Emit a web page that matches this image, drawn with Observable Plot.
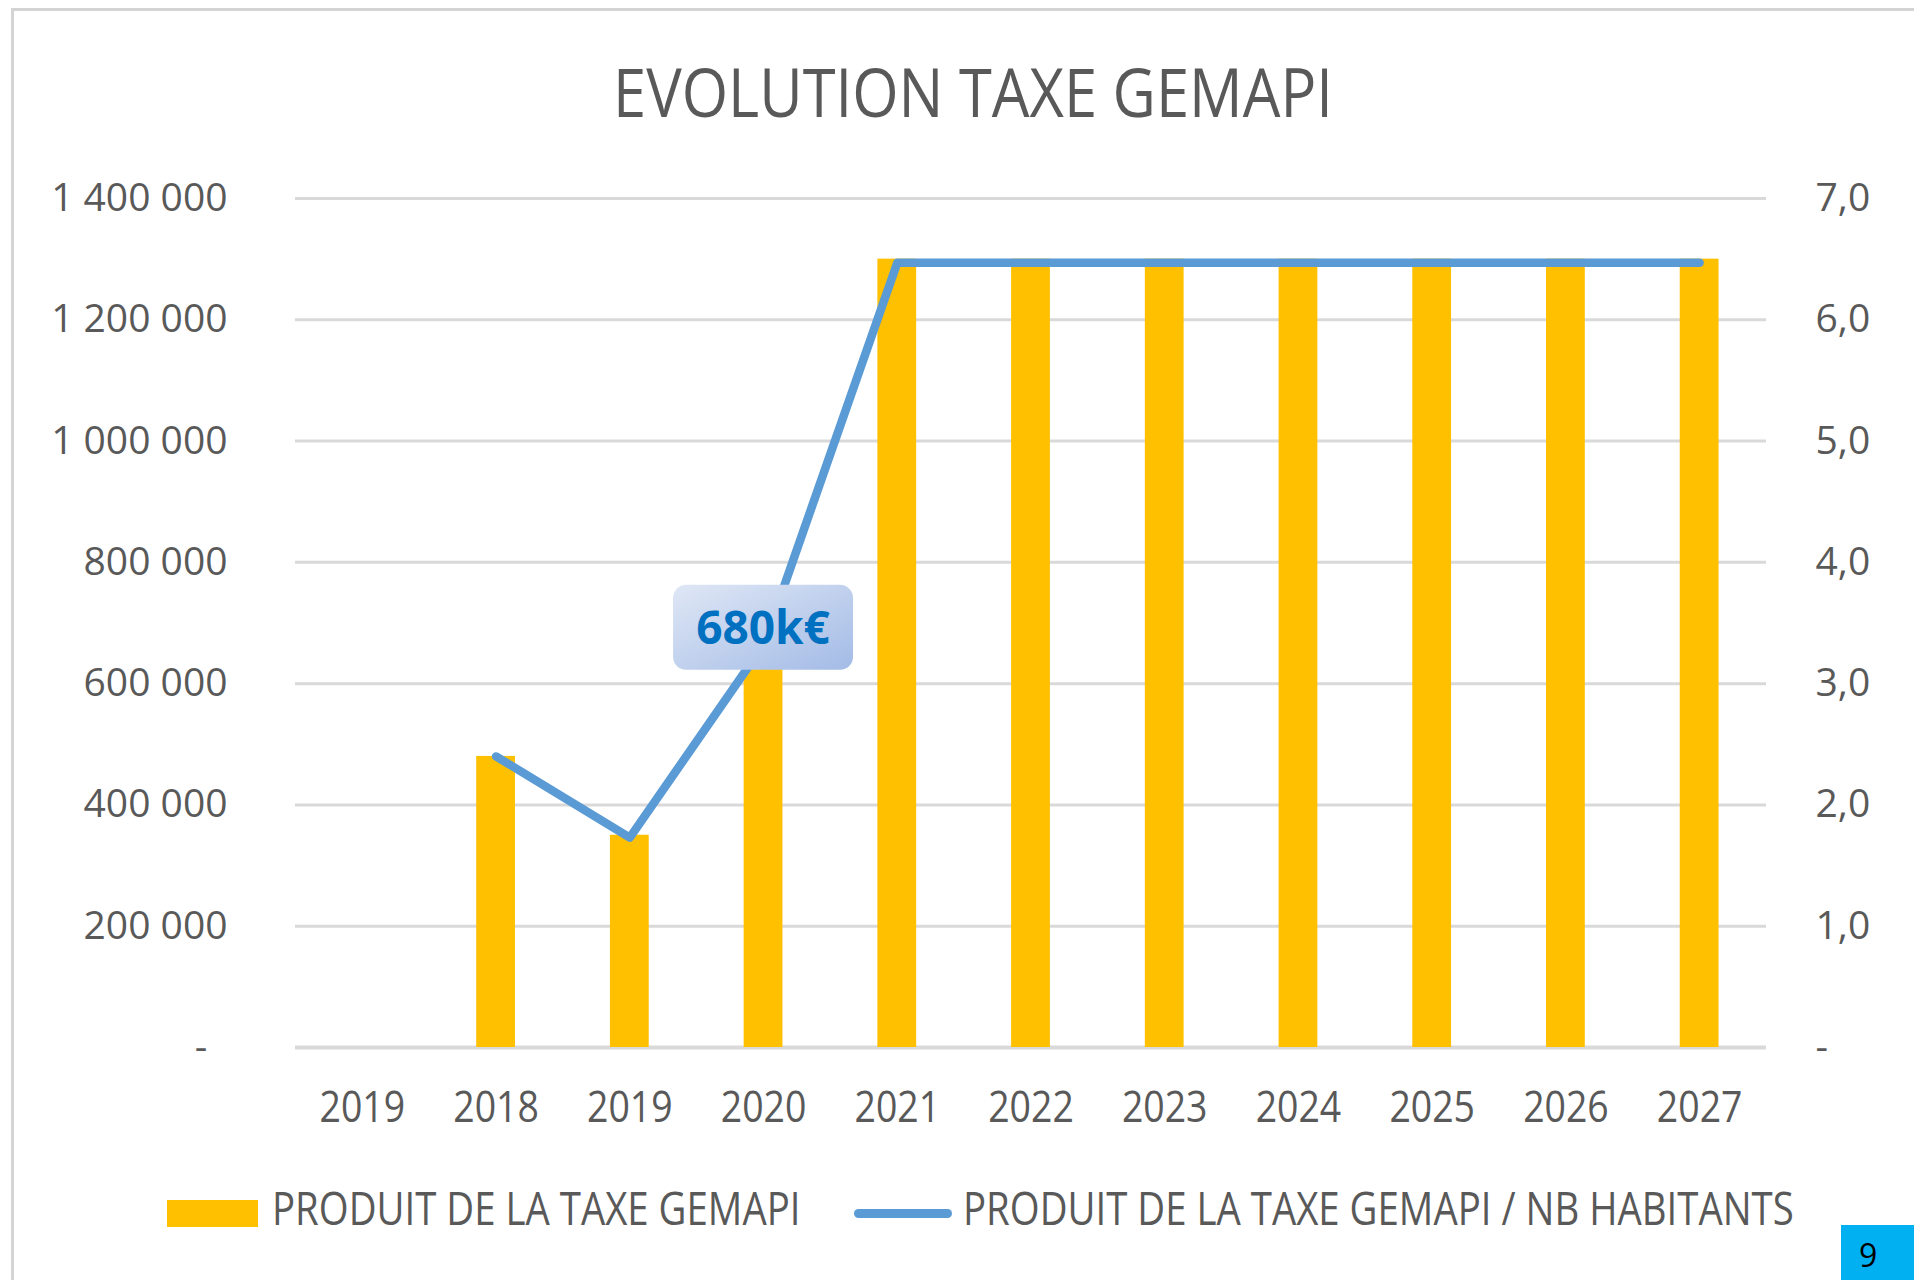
<!DOCTYPE html>
<html>
<head>
<meta charset="utf-8">
<script src="https://cdn.jsdelivr.net/npm/d3@7"></script>
<script src="https://cdn.jsdelivr.net/npm/@observablehq/plot@0.6"></script>
<style>
  html, body { margin: 0; padding: 0; background: #fff; }
  #page { position: relative; width: 1914px; height: 1280px; overflow: hidden; font-family: "Open Sans", sans-serif; background: #fff; }
  .frame { position: absolute; background: #d4d4d4; }
  #title { position: absolute; top: 58px; left: 973px; font-size: 67px; line-height: 1; color: #595959; white-space: nowrap;
           transform: translateX(-50%) scaleX(0.89); transform-origin: center; }
  #chart { position: absolute; left: 0; top: 140px; }
  .legtext { position: absolute; top: 1185px; font-size: 45px; line-height: 1; color: #595959; white-space: nowrap;
             transform: scaleX(0.853); transform-origin: left top; }
  #swBar { position: absolute; left: 167px; top: 1200px; width: 91px; height: 27px; background: #FFC000; }
  #swLine { position: absolute; left: 854px; top: 1209px; width: 98px; height: 9px; border-radius: 5px; background: #5B9BD5; }
  #pageNum { position: absolute; left: 1841px; top: 1225px; width: 73px; height: 55px; background: #00B0F0; }
  #pageNum span { position: absolute; left: 18px; top: 14px; font-size: 32px; line-height: 1; color: #000; }
</style>
</head>
<body>
<div id="page">
  <div class="frame" style="left:11px; top:8px; width:1903px; height:3px;"></div>
  <div class="frame" style="left:11px; top:8px; width:3px; height:1272px;"></div>
  <div id="title"></div>
  <div id="chart"></div>
  <div id="swBar"></div>
  <div class="legtext" id="leg1" style="left:272px;"></div>
  <div id="swLine"></div>
  <div class="legtext" id="leg2" style="left:963px;"></div>
  <div id="pageNum"><span>9</span></div>
</div>
<script>
// ---- data ----
const titleText = "EVOLUTION TAXE GEMAPI";
const years = ["2019", "2018", "2019", "2020", "2021", "2022", "2023", "2024", "2025", "2026", "2027"];
const produitTaxe = [0, 480000, 350000, 680000, 1300000, 1300000, 1300000, 1300000, 1300000, 1300000, 1300000];
const produitParHabitant = [null, 2.4, 1.73, 3.32, 6.47, 6.47, 6.47, 6.47, 6.47, 6.47, 6.47];
const leftTicks = [0, 200000, 400000, 600000, 800000, 1000000, 1200000, 1400000];
const rightTicks = [0, 1, 2, 3, 4, 5, 6, 7];
const axisRatio = 200000; // right axis unit expressed on the left axis
const seriesNames = ["PRODUIT DE LA TAXE GEMAPI", "PRODUIT DE LA TAXE GEMAPI / NB HABITANTS"];
const annotation = {i: 3, y: 692000, label: "680k€"};

// ---- colours ----
const barColor = "#FFC000";
const lineColor = "#5B9BD5";
const gridColor = "#d9d9d9";
const textColor = "#595959";

document.getElementById("title").textContent = titleText;
document.getElementById("leg1").textContent = seriesNames[0];
document.getElementById("leg2").textContent = seriesNames[1];

const idx = years.map((_, i) => i);
const barData = idx.map(i => ({i, value: produitTaxe[i]})).filter(d => d.value > 0);
const lineData = idx.map(i => ({i, value: produitParHabitant[i]})).filter(d => d.value != null);

const loc = d3.formatLocale({decimal: ",", thousands: " ", grouping: [3], currency: ["", "€"]});
const fmtLeft = loc.format(",.0f");
const fmtRight = loc.format(".1f");

const chart = Plot.plot({
  width: 1914,
  height: 1000,
  marginTop: 58,
  marginBottom: 93,
  marginLeft: 295,
  marginRight: 148,
  style: {fontFamily: "'Open Sans', sans-serif", color: textColor, background: "transparent", overflow: "visible"},
  x: {type: "band", domain: idx, paddingInner: 0.71, paddingOuter: 0.355, round: false},
  y: {domain: [0, 1400000]},
  marks: [
    Plot.ruleY(leftTicks, {stroke: gridColor, strokeWidth: d => d === 0 ? 4 : 3}),
    Plot.axisY({anchor: "left", ticks: leftTicks, tickSize: 0, tickPadding: 68, fontSize: 39,
      tickFormat: d => d === 0 ? "-\u00a0\u00a0" : fmtLeft(d), label: null}),
    Plot.axisY({anchor: "right", ticks: rightTicks.map(v => v * axisRatio), tickSize: 0, tickPadding: 49, fontSize: 39,
      tickFormat: d => d === 0 ? "-" : fmtRight(d / axisRatio), label: null}),
    Plot.axisX({ticks: idx, tickSize: 0, tickPadding: 44, fontSize: 43, tickFormat: i => years[i], label: null}),
    Plot.barY(barData, {x: "i", y: "value", fill: barColor}),
    Plot.lineY(lineData, {x: "i", y: d => d.value * axisRatio, stroke: lineColor, strokeWidth: 8.5,
      strokeLinejoin: "round", strokeLinecap: "round"})
  ]
});

document.getElementById("chart").appendChild(chart);

// condense x tick labels (narrow font in the original)
d3.select(chart).selectAll("g[aria-label='x-axis tick label'] text").each(function() {
  const t = this.getAttribute("transform") || "";
  const x = this.getAttribute("x") || 0;
  this.setAttribute("x", 0);
  this.setAttribute("transform", `${t} translate(${x},0) scale(0.87,1)`);
});

// annotation box
const xs = chart.scale("x"), ys = chart.scale("y");
const cx = xs.apply(annotation.i) + (xs.bandwidth || 0) / 2;
const cy = ys.apply(annotation.y);
const svg = d3.select(chart);
const defs = svg.append("defs");
const grad = defs.append("linearGradient").attr("id", "annGrad")
  .attr("x1", "0%").attr("y1", "0%").attr("x2", "100%").attr("y2", "100%");
grad.append("stop").attr("offset", "0%").attr("stop-color", "#dfe7f5");
grad.append("stop").attr("offset", "100%").attr("stop-color", "#a3bbe6");
const bw = 180, bh = 85;
const ann = svg.append("g").attr("aria-label", "annotation");
ann.append("rect").attr("x", cx - bw / 2).attr("y", cy - bh / 2).attr("width", bw).attr("height", bh)
  .attr("rx", 13).attr("fill", "url(#annGrad)");
ann.append("text").attr("x", cx).attr("y", cy).attr("dy", "0.36em").attr("text-anchor", "middle")
  .attr("font-size", 46).attr("font-weight", "bold").attr("fill", "#0070C0")
  .attr("font-family", "'Open Sans', sans-serif").text(annotation.label);
</script>
</body>
</html>
